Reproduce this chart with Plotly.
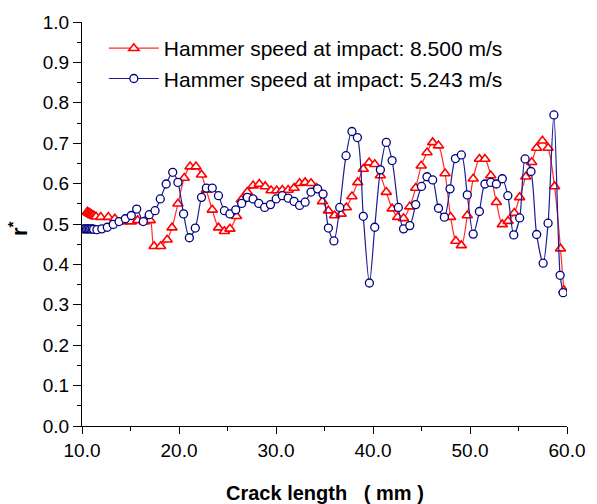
import plotly.graph_objects as go

# Hammer speed at impact: 8.500 m/s (red triangles)
red_x = [10.55, 10.65, 10.75, 10.85, 10.95, 11.05, 11.15, 11.3, 11.45,
         11.94, 12.71, 13.39, 14.23, 15.08, 15.74, 16.42, 17.03, 17.43, 18.11,
         18.78, 19.28, 19.89, 20.54, 21.14, 21.75, 22.32, 22.82, 23.43, 24.07,
         24.68, 25.25, 25.93, 26.43, 27.04, 27.64, 28.28, 28.89, 29.49, 30.07,
         30.65, 31.25, 31.86, 32.43, 33.0, 33.61, 34.19, 34.79, 35.4, 36.04,
         36.71, 37.25, 37.83, 38.43, 39.0, 39.6, 40.18, 40.76, 41.37, 41.97,
         42.54, 43.15, 43.79, 44.4, 44.97, 45.57, 46.15, 46.75, 47.43, 48.0,
         48.54, 49.11, 49.72, 50.33, 50.97, 51.54, 52.14, 52.72, 53.33, 53.93,
         54.57, 55.11, 55.75, 56.36, 56.87, 57.47, 58.05, 58.72, 59.33, 59.67]
red_y = [0.530, 0.528, 0.527, 0.525, 0.524, 0.522, 0.521, 0.519, 0.518,
         0.517, 0.517, 0.513, 0.506, 0.506, 0.509, 0.506, 0.509, 0.445, 0.445,
         0.461, 0.491, 0.550, 0.614, 0.642, 0.642, 0.622, 0.584, 0.535, 0.491,
         0.482, 0.488, 0.519, 0.560, 0.579, 0.595, 0.599, 0.593, 0.583, 0.583,
         0.584, 0.584, 0.589, 0.601, 0.603, 0.601, 0.589, 0.556, 0.533, 0.521,
         0.525, 0.541, 0.568, 0.603, 0.636, 0.652, 0.648, 0.620, 0.579, 0.538,
         0.517, 0.514, 0.543, 0.589, 0.644, 0.677, 0.702, 0.694, 0.625, 0.517,
         0.458, 0.447, 0.521, 0.612, 0.661, 0.661, 0.620, 0.554, 0.499, 0.507,
         0.527, 0.566, 0.617, 0.653, 0.688, 0.706, 0.688, 0.593, 0.439, 0.336]

# Hammer speed at impact: 5.243 m/s (blue circles)
blue_x = [10.15, 10.3, 10.45, 10.6, 10.75, 10.9, 11.05, 11.2,
          11.54, 12.04, 12.61, 13.22, 13.82, 14.47, 15.08, 15.64, 16.32, 16.93,
          17.53, 18.07, 18.68, 19.35, 19.89, 20.47, 21.07, 21.68, 22.32, 22.82,
          23.43, 24.07, 24.68, 25.25, 25.85, 26.46, 27.04, 27.64, 28.22, 28.83,
          29.43, 30.02, 30.65, 31.25, 31.86, 32.43, 33.0, 33.61, 34.29, 34.85,
          35.4, 35.97, 36.57, 37.22, 37.83, 38.39, 39.0, 39.63, 40.18, 40.76,
          41.37, 41.97, 42.61, 43.15, 43.79, 44.4, 45.0, 45.57, 46.15, 46.75,
          47.36, 47.94, 48.5, 49.11, 49.72, 50.33, 50.97, 51.54, 52.14, 52.72,
          53.33, 53.9, 54.51, 55.12, 55.68, 56.29, 56.87, 57.54, 58.05, 58.65,
          59.29, 59.6]
blue_y = [0.488, 0.488, 0.488, 0.488, 0.488, 0.488, 0.488, 0.487,
          0.486, 0.488, 0.492, 0.499, 0.506, 0.513, 0.521, 0.537, 0.506, 0.523,
          0.533, 0.562, 0.599, 0.628, 0.603, 0.525, 0.466, 0.490, 0.566, 0.589,
          0.589, 0.570, 0.533, 0.525, 0.535, 0.551, 0.566, 0.562, 0.551, 0.541,
          0.548, 0.562, 0.570, 0.564, 0.556, 0.546, 0.554, 0.579, 0.587, 0.574,
          0.490, 0.458, 0.541, 0.669, 0.729, 0.714, 0.519, 0.354, 0.492, 0.634,
          0.702, 0.657, 0.541, 0.488, 0.496, 0.548, 0.593, 0.617, 0.609, 0.539,
          0.517, 0.587, 0.662, 0.671, 0.572, 0.475, 0.531, 0.599, 0.603, 0.599,
          0.612, 0.570, 0.473, 0.515, 0.661, 0.630, 0.474, 0.403, 0.502, 0.770,
          0.373, 0.330]

series_names = ["Hammer speed at impact: 8.500 m/s",
                "Hammer speed at impact: 5.243 m/s"]

x_ticks = [10, 20, 30, 40, 50, 60]
x_tick_labels = ["10.0", "20.0", "30.0", "40.0", "50.0", "60.0"]
y_ticks = [0.0, 0.1, 0.2, 0.3, 0.4, 0.5, 0.6, 0.7, 0.8, 0.9, 1.0]
y_tick_labels = ["%.1f" % v for v in y_ticks]

FONT = "Liberation Sans, Arial, sans-serif"

fig = go.Figure()
fig.add_trace(go.Scatter(
    x=red_x, y=red_y, name=series_names[0], mode="lines+markers",
    line=dict(color="#FF2A2A", width=1.2, shape="spline", smoothing=0.8),
    marker=dict(symbol="triangle-up", size=9, color="white",
                line=dict(color="#FF0000", width=1.6)),
))
fig.add_trace(go.Scatter(
    x=blue_x, y=blue_y, name=series_names[1], mode="lines+markers",
    line=dict(color="#1C1C94", width=1.2, shape="spline", smoothing=0.8),
    marker=dict(symbol="circle", size=8, color="white",
                line=dict(color="#000080", width=1.3)),
))

fig.update_layout(
    width=597, height=504,
    margin=dict(l=82, r=21, t=21, b=78),
    paper_bgcolor="white", plot_bgcolor="white",
    font=dict(family=FONT, color="black"),
    showlegend=True,
    legend=dict(x=0.045, y=0.985, xanchor="left", yanchor="top",
                bgcolor="rgba(0,0,0,0)", font=dict(size=21, family=FONT),
                itemwidth=50, tracegroupgap=0),
)
fig.update_xaxes(
    range=[10, 60], tickmode="array", tickvals=x_ticks, ticktext=x_tick_labels,
    showgrid=False, zeroline=False, showline=True, linecolor="black", linewidth=1.2,
    ticks="outside", ticklen=7, tickwidth=1.2, tickcolor="black",
    tickfont=dict(size=19, family=FONT),
    minor=dict(dtick=5, ticks="outside", ticklen=4, tickcolor="black", tickwidth=1.2),
)
fig.update_yaxes(
    range=[0, 1], tickmode="array", tickvals=y_ticks, ticktext=y_tick_labels,
    showgrid=False, zeroline=False, showline=True, linecolor="black", linewidth=1.2,
    ticks="outside", ticklen=8, tickwidth=1.2, tickcolor="black",
    tickfont=dict(size=19, family=FONT),
    minor=dict(dtick=0.05, ticks="outside", ticklen=4, tickcolor="black", tickwidth=1.2),
)
fig.add_annotation(text="<b>Crack length   ( mm )</b>", xref="paper", yref="paper",
                   x=0.5, y=-0.165, xanchor="center", yanchor="middle",
                   showarrow=False, font=dict(size=20, family=FONT))
fig.add_annotation(text="<b>r<sup>*</sup></b>", xref="paper", yref="paper",
                   x=-0.132, y=0.49, xanchor="center", yanchor="middle",
                   textangle=-90, showarrow=False, font=dict(size=22, family=FONT))

fig.write_html("out.html")
